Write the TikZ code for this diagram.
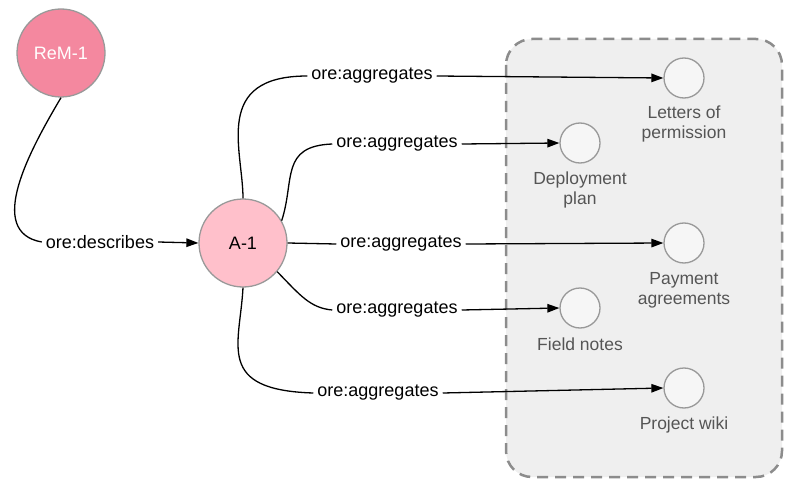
\documentclass[tikz,border=0pt]{standalone}
\usepackage{fontspec}
\setmainfont{Liberation Sans}
\usetikzlibrary{arrows.meta}
\definecolor{remfill}{HTML}{F4889F}
\definecolor{afill}{HTML}{FFC0CB}
\definecolor{nodestroke}{HTML}{999999}
\definecolor{boxfill}{HTML}{EFEFEF}
\definecolor{boxstroke}{HTML}{8C8C8C}
\definecolor{restext}{HTML}{555555}
\definecolor{smallfill}{HTML}{F6F6F6}
\tikzset{
  bignode/.style={circle, draw=nodestroke, line width=1.3pt, minimum size=88pt, inner sep=0pt, font=\fontsize{18}{21}\selectfont},
  resnode/.style={circle, draw=nodestroke, line width=1.3pt, fill=smallfill, minimum size=40pt, inner sep=0pt},
  restext/.style={text=restext, align=center, font=\fontsize{17.5}{20}\selectfont, inner sep=0pt},
  rellabel/.style={font=\fontsize{18}{21}\selectfont, inner sep=4pt},
  edge/.style={line width=1.3pt, black},
  arr/.style={edge, -{Triangle[length=12pt,width=8.5pt]}}
}
\begin{document}
\begin{tikzpicture}[x=1pt,y=-1pt]
\useasboundingbox (0,0) rectangle (785,487);
% dashed aggregation box
\draw[fill=boxfill, draw=boxstroke, line width=2.5pt, dash pattern=on 11pt off 7pt, rounded corners=26pt] (506,39) rectangle (782,477);

% main nodes
\node[bignode, fill=remfill, text=white] (rem) at (61,53) {ReM-1};
\node[bignode, fill=afill] (a1) at (243,243) {A-1};

% resources
\node[resnode] (c1) at (684,78) {};
\node[resnode] (c2) at (580,143) {};
\node[resnode] (c3) at (684,243) {};
\node[resnode] (c4) at (580,308) {};
\node[resnode] (c5) at (684,388) {};
\node[restext] (t1) at (684,124) {Letters of\\permission};
\node[restext] (t2) at (580,190) {Deployment\\plan};
\node[restext] (t3) at (684,290) {Payment\\agreements};
\node[restext] (t4) at (580,344) {Field notes};
\node[restext] (t5) at (684,425) {Project wiki};

% relation labels
\node[rellabel] (ld) at (100,242) {ore:describes};
\node[rellabel] (l1) at (372,76) {ore:aggregates};
\node[rellabel] (l2) at (397,144) {ore:aggregates};
\node[rellabel] (l3) at (401,244) {ore:aggregates};
\node[rellabel] (l4) at (397,310) {ore:aggregates};
\node[rellabel] (l5) at (378,393) {ore:aggregates};

% describes
\draw[edge] (rem.south) .. controls (30,150) and (-15,232) .. (ld.west);
\draw[arr] (ld.east) -- (a1.west);

% aggregates
\draw[edge] (a1.north) .. controls (243,150) and (212,76) .. (l1.west);
\draw[arr] (l1.east) -- (c1.west);
\draw[edge] (a1.30) .. controls (295,180) and (280,146) .. (l2.west);
\draw[arr] (l2.east) -- (c2.west);
\draw[edge] (a1.east) -- (l3.west);
\draw[arr] (l3.east) -- (c3.west);
\draw[edge] (a1.-40) .. controls (300,295) and (310,308) .. (l4.west);
\draw[arr] (l4.east) -- (c4.west);
\draw[edge] (a1.south) .. controls (240,345) and (215,390) .. (l5.west);
\draw[arr] (l5.east) -- (c5.west);
\end{tikzpicture}
\end{document}
